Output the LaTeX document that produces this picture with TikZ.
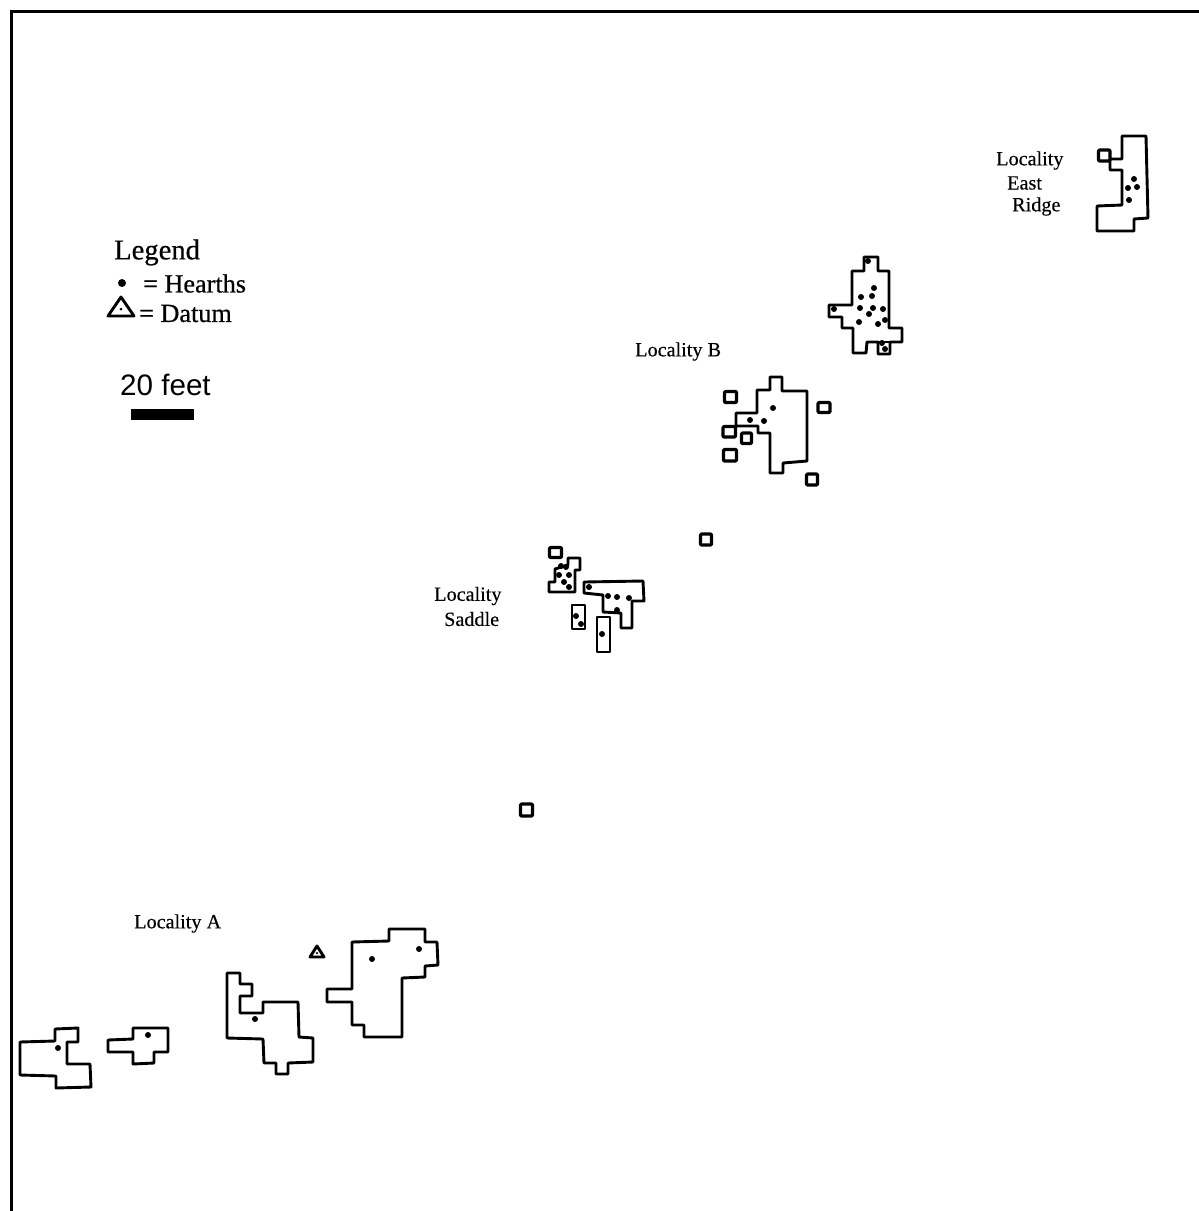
\documentclass[tikz,border=0pt]{standalone}
\usepackage{fontspec}
\newfontfamily\scanfont[FakeBold=0.3]{Liberation Serif}
\newfontfamily\keyfont[FakeBold=0.6]{Liberation Serif}
\newfontfamily\scalefont{Liberation Sans}
\tikzset{
  plan/.style = {line width = 2.9pt, line join = round},
  pit/.style = {line width = 3.2pt, line join = round, rounded corners = 1pt},
  hearth/.style = {circle, fill = black, inner sep = 0pt, minimum size = 6pt},
  locality/.style = {anchor = west, inner sep = 0pt, font = \fontsize{20.2}{22}\scanfont},
  legendtext/.style = {anchor = west, inner sep = 0pt, font = \fontsize{26.2}{30}\keyfont}
}
\begin{document}
\begin{tikzpicture}[x = 1pt, y = -1pt]
            \useasboundingbox (0,0) rectangle (1199,1211);
            %Frame
            \draw [line width = 3pt] (11,1211) -- (11,11) -- (1199,11);

            %Legend
            \node [legendtext, font = \fontsize{28.6}{30}\keyfont] (legend)at(114,252.5){Legend};
            \node [hearth, minimum size = 8pt] (hkey)at(122,283){};
            \node [legendtext] (hearths)at(143,283.5){= Hearths};
            \draw [plan] (121,297) -- (108,316) -- (134,316) -- cycle;
            \node [hearth, minimum size = 3pt] (dkey)at(121,309){};
            \node [legendtext] (datum)at(139,313.5){= Datum};
            \node [legendtext, font = \fontsize{29.6}{30}\scalefont] (feet)at(120,385){20 feet};
            \fill (131,409) rectangle (194,420);

            %Locality A
            \node [locality] (locA)at(134,923.5){Locality A};
            \draw [plan] (20,1042) -- (55,1041) -- (55,1029) -- (78,1028) -- (78,1042) -- (67,1042)
                -- (67,1064) -- (90,1064) -- (91,1087) -- (56,1088) -- (56,1076) -- (20,1075) -- cycle;
            \draw [plan] (108,1040) -- (133,1039) -- (133,1028) -- (168,1028) -- (168,1052) -- (154,1052)
                -- (154,1063) -- (133,1064) -- (133,1052) -- (108,1052) -- cycle;
            \draw [plan] (227,973) -- (240,973) -- (240,984) -- (252,984) -- (252,996) -- (240,996)
                -- (240,1013) -- (263,1013) -- (263,1002) -- (298,1002) -- (299,1037) -- (313,1038)
                -- (313,1062) -- (288,1063) -- (288,1074) -- (276,1074) -- (276,1063) -- (264,1063)
                -- (263,1039) -- (227,1038) -- cycle;
            \draw [plan] (352,942) -- (389,941) -- (389,929) -- (425,929) -- (425,942) -- (437,942)
                -- (438,965) -- (425,966) -- (425,977) -- (402,978) -- (402,1037) -- (364,1037)
                -- (364,1025) -- (352,1025) -- (352,1002) -- (327,1002) -- (327,989) -- (352,989) -- cycle;
            \foreach \x/\y [count = \i] in {58/1048, 148/1035, 255/1019, 372/959, 419/949}
                \node [hearth] (hA\i)at(\x,\y){};
            %Datum
            \draw [plan] (317,946) -- (310,957) -- (324,957) -- cycle;
            \node [hearth, minimum size = 2.5pt] (dA)at(317,953){};

            %Loose squares
            \draw [pit] (520.5,804) rectangle (532.5,816);
            \draw [pit] (700.5,534) rectangle (711.5,545);

            %Locality Saddle
            \node [locality] (locS1)at(434,596){Locality};
            \node [locality] (locS2)at(444,619){Saddle};
            \draw [pit] (549.5,547.5) rectangle (561.5,557.5);
            \draw [plan] (549,582) -- (555,582) -- (555,569) -- (568,565) -- (568,558) -- (580,558)
                -- (580,570) -- (575,570) -- (575,592) -- (549,592) -- cycle;
            \draw [plan] (584,582) -- (643,581) -- (644,601) -- (632,601) -- (632,628) -- (621,628)
                -- (621,613) -- (603,612) -- (603,595) -- (584,593) -- cycle;
            \draw [plan] (572,605) rectangle (585,629);
            \draw [plan] (597,617) rectangle (610,652);
            \foreach \x/\y [count = \i] in {561/566, 566/567, 559/575, 569/575, 564/582, 569/587, 589/587,
                608/596, 617/597, 629/598, 617/610, 576/616, 581/624, 602/634}
                \node [hearth] (hS\i)at(\x,\y){};

            %Locality B
            \node [locality] (locB)at(635,351.5){Locality B};
            \draw [plan] (736,413) -- (757,413) -- (757,390) -- (770,390) -- (770,377) -- (782,377)
                -- (782,391) -- (807,391) -- (807,461) -- (783,463) -- (783,473) -- (770,473)
                -- (770,433) -- (758,433) -- (758,426) -- (736,426) -- cycle;
            \draw [pit] (724.5,391.5) rectangle (736.5,402.5);
            \draw [pit] (818,402.5) rectangle (830,412.5);
            \draw [pit] (723,426.5) rectangle (735.5,437);
            \draw [pit] (741.5,433) rectangle (751.5,443.5);
            \draw [pit] (723.5,449.5) rectangle (736.5,461);
            \draw [pit] (806.5,474) rectangle (817.5,485);
            \foreach \x/\y [count = \i] in {773/408, 750/420, 764/421}
                \node [hearth] (hB\i)at(\x,\y){};

            \draw [plan] (852,271) -- (864,271) -- (864,257) -- (878,257) -- (878,271) -- (889,271)
                -- (889,328) -- (902,328) -- (902,342) -- (890,342) -- (890,354) -- (878,354)
                -- (878,342) -- (867,342) -- (866,353) -- (853,353) -- (853,328) -- (842,328)
                -- (842,317) -- (829,317) -- (829,305) -- (852,305) -- cycle;
            \draw [plan] (878,342) -- (890,342);
            \foreach \x/\y [count = \i] in {868/261, 874/288, 861/297, 872/296, 860/308, 873/308, 869/314,
                883/309, 885/320, 878/324, 859/322, 834/309, 882/343, 885/349}
                \node [hearth] (hC\i)at(\x,\y){};

            %Locality East Ridge
            \node [locality] (locE1)at(996,160.5){Locality};
            \node [locality] (locE2)at(1007,183){East};
            \node [locality] (locE3)at(1012,206.5){Ridge};
            \draw [plan] (1122,136) -- (1146,136) -- (1148,218) -- (1134,219) -- (1134,231) -- (1097,231)
                -- (1097,206) -- (1122,205) -- (1122,170) -- (1110,170) -- (1110,159) -- (1122,159) -- cycle;
            \draw [pit] (1098.5,150) rectangle (1110,161);
            \foreach \x/\y [count = \i] in {1134/179, 1128/188, 1137/187, 1129/200}
                \node [hearth] (hE\i)at(\x,\y){};

        \end{tikzpicture}
\end{document}
